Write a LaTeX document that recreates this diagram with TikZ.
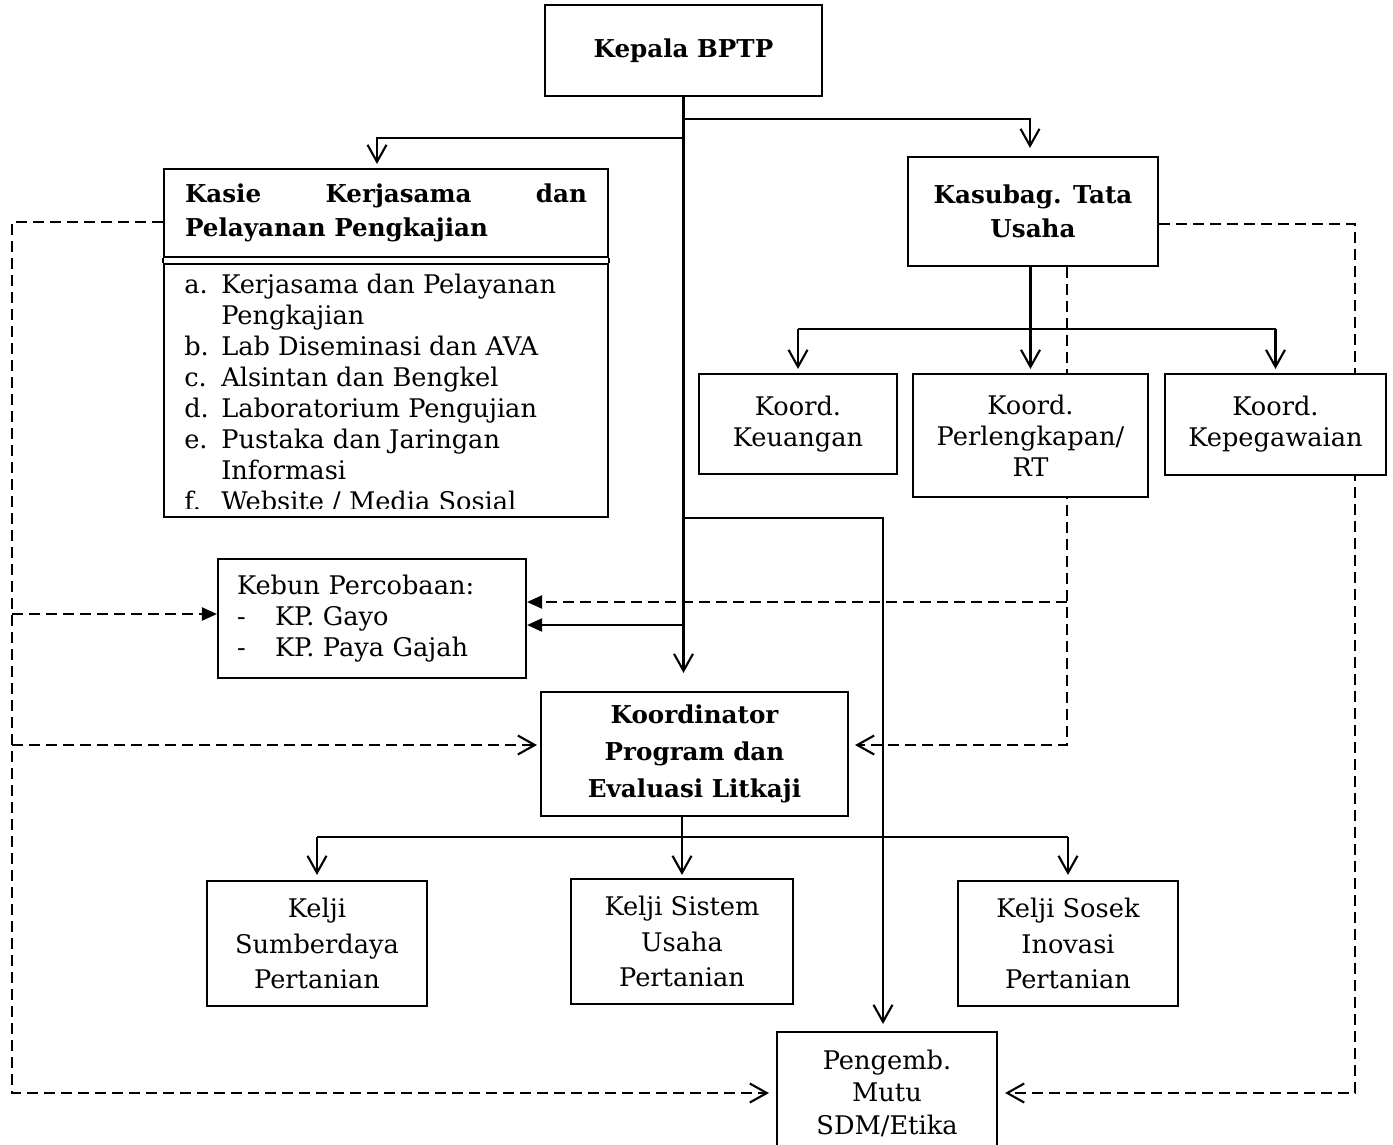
\documentclass[tikz,border=0pt]{standalone}
\usepackage{fontspec}
\setmainfont{DejaVu Serif}
\usetikzlibrary{arrows.meta,calc,backgrounds}
\newcommand{\lbl}[1]{\makebox[0.74cm][l]{#1}}
\tikzset{
  line/.style={line width=1.2pt},
  dline/.style={line, dash pattern=on 2.2mm off 1.2mm},
  arr/.style={line, -{Straight Barb[length=3.4mm,width=3.8mm]}},
  tri/.style={-{Triangle[length=3mm,width=2.6mm]}},
  box/.style={draw, line width=1.2pt, fill=white, align=center, inner sep=0pt,
    font=\fontsize{14.6pt}{17.6pt}\selectfont},
  bbox/.style={box, font=\fontsize{14pt}{19pt}\selectfont\bfseries}
}
\begin{document}
\begin{tikzpicture}
\useasboundingbox (0,0) rectangle (27.86,-22.88);

\node[bbox, minimum width=5.54cm, minimum height=1.82cm] (kepala) at (13.67,-1.01) {Kepala BPTP};
\node[bbox, minimum width=8.88cm, minimum height=1.76cm, text width=8.04cm, align=justify] (kasiehead) at (7.72,-4.26) {Kasie Kerjasama dan\linebreak Pelayanan Pengkajian};
\node[box, minimum width=8.88cm, minimum height=5.06cm] (kasielist) at (7.72,-7.81) {};
\node[bbox, minimum width=5cm, minimum height=2.18cm] (kasub) at (20.66,-4.23) {Kasubag. Tata\\Usaha};
\node[box, minimum width=3.96cm, minimum height=2cm] (keu) at (15.96,-8.48) {Koord.\\Keuangan};
\node[box, minimum width=4.7cm, minimum height=2.46cm] (perl) at (20.61,-8.71) {Koord.\\Perlengkapan/\\RT};
\node[box, minimum width=4.42cm, minimum height=2.02cm] (pegawai) at (25.51,-8.49) {Koord.\\Kepegawaian};
\node[box, text width=5.4cm, inner xsep=0.38cm, minimum height=2.38cm, align=left] (kebun) at (7.44,-12.37) {Kebun Percobaan:\\\makebox[0.76cm][l]{-}KP. Gayo\\\makebox[0.76cm][l]{-}KP. Paya Gajah};
\node[bbox, minimum width=6.14cm, minimum height=2.48cm, font=\fontsize{14pt}{21pt}\selectfont\bfseries] (koord) at (13.89,-15.08) {Koordinator\\Program dan\\Evaluasi Litkaji};
\node[box, minimum width=4.4cm, minimum height=2.5cm, font=\fontsize{14.6pt}{20pt}\selectfont] (kelji1) at (6.34,-18.87) {Kelji\\Sumberdaya\\Pertanian};
\node[box, minimum width=4.44cm, minimum height=2.5cm, font=\fontsize{14.6pt}{20pt}\selectfont] (kelji2) at (13.64,-18.83) {Kelji Sistem\\Usaha\\Pertanian};
\node[box, minimum width=4.4cm, minimum height=2.5cm, font=\fontsize{14.6pt}{20pt}\selectfont] (kelji3) at (21.36,-18.87) {Kelji Sosek\\Inovasi\\Pertanian};
\node[box, minimum width=4.4cm, minimum height=2.44cm, font=\fontsize{14.6pt}{18.5pt}\selectfont] (mutu) at (17.74,-21.86) {Pengemb.\\Mutu\\SDM/Etika};

\draw[line] (kasiehead.south west) -- (kasielist.north west);
\draw[line] (kasiehead.south east) -- (kasielist.north east);
\begin{scope}
  \clip (kasielist.north west) rectangle ([yshift=0.2cm]kasielist.south east);
  \node[anchor=north west, inner sep=0pt, align=left, font=\fontsize{14.6pt}{17.6pt}\selectfont] (kasieitems) at ([xshift=0.42cm,yshift=-0.22cm]kasielist.north west)
    {\lbl{a.}Kerjasama dan Pelayanan\\
     \lbl{}Pengkajian\\
     \lbl{b.}Lab Diseminasi dan AVA\\
     \lbl{c.}Alsintan dan Bengkel\\
     \lbl{d.}Laboratorium Pengujian\\
     \lbl{e.}Pustaka dan Jaringan\\
     \lbl{}Informasi\\
     \lbl{f.}Website / Media Sosial};
\end{scope}

\coordinate (tub) at ($(kasub.south)+(0,-1.24)$);
\coordinate (kob) at ($(koord.south)+(0,-0.4)$);
\coordinate (kbs) at ([yshift=-0.13cm]kebun.east);
\coordinate (kbd) at ([yshift=0.33cm]kebun.east);
\coordinate (kbw) at ([yshift=0.09cm]kebun.west);
\coordinate (kod) at ([yshift=0.18cm]koord.east);
\coordinate (kow) at ([yshift=0.18cm]koord.west);
\coordinate (lft) at (0.24,0);
\coordinate (rgt) at (27.1,0);
\coordinate (rd) at ($(kasub.south)+(0.68,0)$);

\begin{scope}[on background layer]
  \draw[arr, shorten >=0.36cm] (kepala.south) -- (kepala.south |- koord.north);
  \draw[arr, shorten >=0.08cm] ($(kepala.south)+(0,-0.82)$) -| ([xshift=-0.18cm]kasiehead.north);
  \draw[arr, shorten >=0.16cm] ($(kepala.south)+(0,-0.44)$) -| ([xshift=-0.06cm]kasub.north);
  \draw[arr, shorten >=0.14cm] ($(kepala.south)+(0,-8.42)$) -| ([xshift=-0.08cm]mutu.north);
  \draw[line, tri] (kepala.south |- kbs) -- (kbs);

  \draw[line] (keu.north |- tub) -- (pegawai.north |- tub);
  \draw[arr, shorten >=0.08cm] (keu.north |- tub) -- (keu.north);
  \draw[arr, shorten >=0.08cm] (kasub.south -| perl.north) -- (perl.north);
  \draw[arr, shorten >=0.08cm] (pegawai.north |- tub) -- (pegawai.north);

  \draw[line] (kelji1.north |- kob) -- (kelji3.north |- kob);
  \draw[arr, shorten >=0.1cm] (kelji1.north |- kob) -- (kelji1.north);
  \draw[arr, shorten >=0.06cm] (kelji2.north |- koord.south) -- (kelji2.north);
  \draw[arr, shorten >=0.1cm] (kelji3.north |- kob) -- (kelji3.north);

  \draw[dline, arr, shorten >=0.14cm] ([yshift=-0.18cm]kasiehead.west) -| (lft |- mutu.west) -- (mutu.west);
  \draw[dline, tri] (lft |- kbw) -- (kbw);
  \draw[dline, arr, shorten >=0.06cm] (lft |- kow) -- (kow);
  \draw[dline, arr, shorten >=0.14cm] ([yshift=-0.25cm]kasub.east) -| (rgt |- mutu.east) -- (mutu.east);
  \draw[dline, arr, shorten >=0.12cm] (rd) |- (kod);
  \draw[dline, tri] (rd |- kbd) -- (kbd);
\end{scope}
\end{tikzpicture}
\end{document}
